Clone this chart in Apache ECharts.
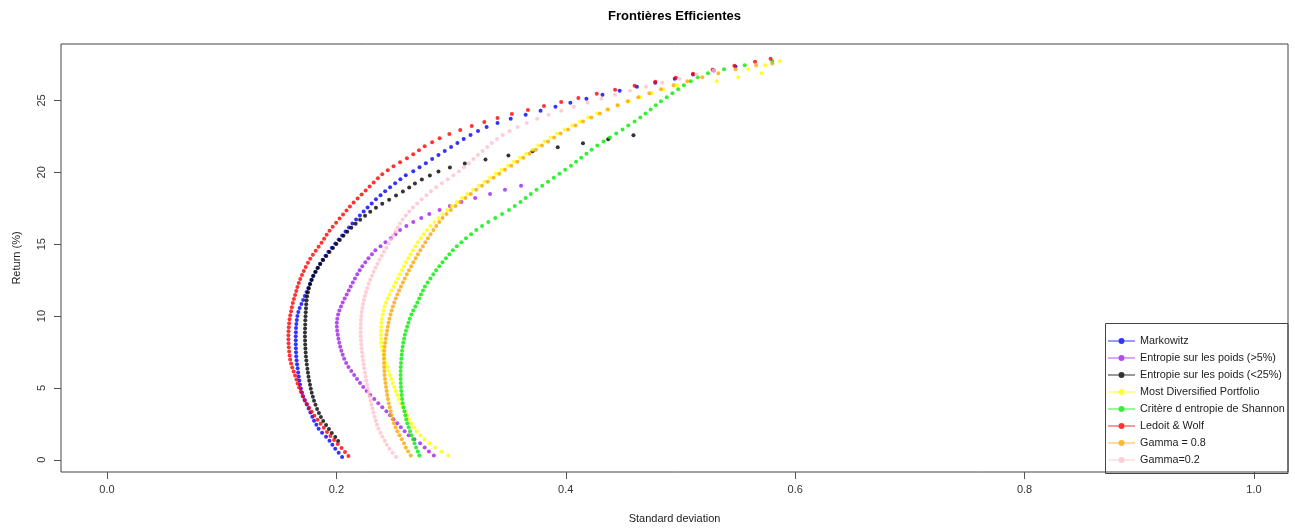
<!DOCTYPE html>
<html>
<head>
<meta charset="utf-8">
<title>Frontières Efficientes</title>
<script src="https://cdn.jsdelivr.net/npm/echarts@6.0.0/dist/echarts.min.js"></script>
<style>
    body { margin: 0; background: #fff; }
    #main { width: 1295px; height: 529px; }
</style>
</head>
<body>
<div id="main"></div>
<script>
// axis ticks
var xTicks = [0, 0.2, 0.4, 0.6, 0.8, 1.0];
var yTicks = [0, 5, 10, 15, 20, 25];

var seriesNames = [
    'Markowitz',
    'Entropie sur les poids (>5%)',
    'Entropie sur les poids (<25%)',
    'Most Diversified Portfolio',
    'Critère d entropie de Shannon',
    'Ledoit & Wolf',
    'Gamma = 0.8',
    'Gamma=0.2'
];
var seriesColors = ['#0000FF', '#A020F0', '#000000', '#FFFF00', '#00EE00', '#FF0000', '#FFA500', '#FFC0CB'];

// Markowitz
var markowitzRet = [
    0.20, 0.48, 0.76, 1.04, 1.32, 1.60, 1.88, 2.16, 2.44, 2.72,
    3.00, 3.28, 3.56, 3.84, 4.12, 4.40, 4.68, 4.96, 5.24, 5.52,
    5.80, 6.08, 6.36, 6.64, 6.92, 7.20, 7.48, 7.76, 8.04, 8.32,
    8.60, 8.88, 9.16, 9.44, 9.72, 10.00, 10.28, 10.56, 10.84, 11.12,
    11.40, 11.68, 11.96, 12.24, 12.52, 12.80, 13.08, 13.36, 13.64, 13.92,
    14.20, 14.48, 14.76, 15.04, 15.32, 15.60, 15.88, 16.16, 16.44, 16.72,
    17.00, 17.28, 17.56, 17.84, 18.12, 18.40, 18.68, 18.96, 19.24, 19.52,
    19.80, 20.08, 20.36, 20.64, 20.92, 21.20, 21.48, 21.76, 22.04, 22.32,
    22.60, 22.88, 23.16, 23.44, 23.72, 24.00, 24.28, 24.56, 24.84, 25.12,
    25.40, 25.68, 25.96, 26.24, 26.52, 26.80, 27.08, 27.36
];
var markowitzSd = [
    0.2050, 0.2020, 0.1990, 0.1965, 0.1940, 0.1910, 0.1875, 0.1845, 0.1825, 0.1805,
    0.1790, 0.1773, 0.1758, 0.1743, 0.1725, 0.1710, 0.1700, 0.1690, 0.1683, 0.1677,
    0.1672, 0.1667, 0.1662, 0.1657, 0.1653, 0.1650, 0.1648, 0.1647, 0.1646, 0.1646,
    0.1646, 0.1647, 0.1648, 0.1651, 0.1655, 0.1660, 0.1668, 0.1680, 0.1695, 0.1710,
    0.1725, 0.1740, 0.1755, 0.1770, 0.1785, 0.1800, 0.1820, 0.1840, 0.1860, 0.1880,
    0.1905, 0.1930, 0.1960, 0.1990, 0.2020, 0.2050, 0.2080, 0.2110, 0.2140, 0.2172,
    0.2205, 0.2238, 0.2272, 0.2308, 0.2345, 0.2385, 0.2425, 0.2468, 0.2512, 0.2558,
    0.2605, 0.2670, 0.2725, 0.2780, 0.2835, 0.2890, 0.2945, 0.3000, 0.3055, 0.3110,
    0.3170, 0.3235, 0.3310, 0.3405, 0.3520, 0.3650, 0.3780, 0.3910, 0.4040, 0.4180,
    0.4320, 0.4470, 0.4620, 0.4780, 0.4950, 0.5110, 0.5290, 0.5480
];

// Entropie sur les poids (>5%)
var entropy5Ret = [
    0.30, 0.58, 0.86, 1.14, 1.42, 1.70, 1.98, 2.26, 2.54, 2.82,
    3.10, 3.38, 3.66, 3.94, 4.22, 4.50, 4.78, 5.06, 5.34, 5.62,
    5.90, 6.18, 6.46, 6.74, 7.02, 7.30, 7.58, 7.86, 8.14, 8.42,
    8.70, 8.98, 9.26, 9.54, 9.82, 10.10, 10.38, 10.66, 10.94, 11.22,
    11.50, 11.78, 12.06, 12.34, 12.62, 12.90, 13.18, 13.46, 13.74, 14.02,
    14.30, 14.58, 14.86, 15.14, 15.42, 15.70, 15.98, 16.26, 16.54, 16.82,
    17.10, 17.38, 17.66, 17.94, 18.22, 18.50, 18.78, 19.06
];
var entropy5Sd = [
    0.2850, 0.2807, 0.2770, 0.2730, 0.2680, 0.2630, 0.2595, 0.2562, 0.2530, 0.2498,
    0.2468, 0.2436, 0.2400, 0.2365, 0.2330, 0.2296, 0.2264, 0.2234, 0.2206, 0.2180,
    0.2155, 0.2130, 0.2105, 0.2085, 0.2068, 0.2055, 0.2043, 0.2033, 0.2025, 0.2018,
    0.2012, 0.2007, 0.2004, 0.2004, 0.2008, 0.2015, 0.2026, 0.2040, 0.2055, 0.2072,
    0.2090, 0.2108, 0.2125, 0.2143, 0.2162, 0.2182, 0.2203, 0.2226, 0.2252, 0.2280,
    0.2310, 0.2340, 0.2385, 0.2428, 0.2475, 0.2515, 0.2555, 0.2610, 0.2670, 0.2740,
    0.2810, 0.2900, 0.2990, 0.3090, 0.3210, 0.3340, 0.3470, 0.3610
];

// Entropie sur les poids (<25%)
var entropy25Ret = [
    1.30, 1.58, 1.86, 2.14, 2.42, 2.70, 2.98, 3.26, 3.54, 3.82,
    4.10, 4.38, 4.66, 4.94, 5.22, 5.50, 5.78, 6.06, 6.34, 6.62,
    6.90, 7.18, 7.46, 7.74, 8.02, 8.30, 8.58, 8.86, 9.14, 9.42,
    9.70, 9.98, 10.26, 10.54, 10.82, 11.10, 11.38, 11.66, 11.94, 12.22,
    12.50, 12.78, 13.06, 13.34, 13.62, 13.90, 14.18, 14.46, 14.74, 15.02,
    15.30, 15.58, 15.86, 16.14, 16.42, 16.70, 16.98, 17.26, 17.54, 17.82,
    18.10, 18.38, 18.66, 18.94, 19.22, 19.50, 19.78, 20.06, 20.34, 20.62,
    20.90, 21.18, 21.46, 21.74, 22.02, 22.30, 22.58
];
var entropy25Sd = [
    0.2015, 0.1990, 0.1960, 0.1935, 0.1910, 0.1885, 0.1865, 0.1848, 0.1832, 0.1818,
    0.1805, 0.1795, 0.1785, 0.1777, 0.1770, 0.1763, 0.1757, 0.1752, 0.1747, 0.1742,
    0.1738, 0.1735, 0.1732, 0.1730, 0.1728, 0.1727, 0.1726, 0.1726, 0.1727, 0.1728,
    0.1729, 0.1731, 0.1733, 0.1735, 0.1737, 0.1740, 0.1745, 0.1752, 0.1760, 0.1770,
    0.1782, 0.1797, 0.1815, 0.1835, 0.1858, 0.1885, 0.1912, 0.1940, 0.1970, 0.2000,
    0.2030, 0.2062, 0.2095, 0.2130, 0.2168, 0.2207, 0.2250, 0.2295, 0.2345, 0.2400,
    0.2460, 0.2520, 0.2580, 0.2635, 0.2685, 0.2745, 0.2815, 0.2890, 0.2990, 0.3120,
    0.3300, 0.3500, 0.3710, 0.3930, 0.4150, 0.4370, 0.4590
];

// Most Diversified Portfolio
var mdpRet = [
    0.30, 0.58, 0.86, 1.14, 1.42, 1.70, 1.98, 2.26, 2.54, 2.82,
    3.10, 3.38, 3.66, 3.94, 4.22, 4.50, 4.78, 5.06, 5.34, 5.62,
    5.90, 6.18, 6.46, 6.74, 7.02, 7.30, 7.58, 7.86, 8.14, 8.42,
    8.70, 8.98, 9.26, 9.54, 9.82, 10.10, 10.38, 10.66, 10.94, 11.22,
    11.50, 11.78, 12.06, 12.34, 12.62, 12.90, 13.18, 13.46, 13.74, 14.02,
    14.30, 14.58, 14.86, 15.14, 15.42, 15.70, 15.98, 16.26, 16.54, 16.82,
    17.10, 17.38, 17.66, 17.94, 18.22, 18.50, 18.78, 19.06, 19.34, 19.62,
    19.90, 20.18, 20.46, 20.74, 21.02, 21.30, 21.58, 21.86, 22.14, 22.42,
    22.70, 22.98, 23.26, 23.54, 23.82, 24.10, 24.38, 24.66, 24.94, 25.22,
    25.50, 25.78, 26.06, 26.34, 26.62, 26.90, 27.18, 27.46, 27.74
];
var mdpSd = [
    0.2976, 0.2918, 0.2860, 0.2812, 0.2768, 0.2732, 0.2700, 0.2675, 0.2652, 0.2632,
    0.2614, 0.2596, 0.2578, 0.2560, 0.2545, 0.2532, 0.2518, 0.2504, 0.2491, 0.2478,
    0.2466, 0.2454, 0.2442, 0.2431, 0.2420, 0.2410, 0.2402, 0.2396, 0.2392, 0.2390,
    0.2389, 0.2389, 0.2390, 0.2393, 0.2398, 0.2404, 0.2411, 0.2420, 0.2432, 0.2446,
    0.2462, 0.2480, 0.2500, 0.2518, 0.2536, 0.2554, 0.2572, 0.2590, 0.2608, 0.2627,
    0.2646, 0.2666, 0.2688, 0.2710, 0.2735, 0.2762, 0.2790, 0.2820, 0.2855, 0.2890,
    0.2925, 0.2965, 0.3005, 0.3050, 0.3095, 0.3140, 0.3190, 0.3240, 0.3290, 0.3340,
    0.3390, 0.3440, 0.3495, 0.3548, 0.3600, 0.3655, 0.3710, 0.3760, 0.3815, 0.3868,
    0.3925, 0.3990, 0.4055, 0.4122, 0.4195, 0.4275, 0.4360, 0.4450, 0.4550, 0.4650,
    0.4750, 0.4850, 0.4970, 0.5316, 0.5504, 0.5708, 0.5591, 0.5740, 0.5868
];

// Critère d entropie de Shannon
var shannonRet = [
    0.30, 0.58, 0.86, 1.14, 1.42, 1.70, 1.98, 2.26, 2.54, 2.82,
    3.10, 3.38, 3.66, 3.94, 4.22, 4.50, 4.78, 5.06, 5.34, 5.62,
    5.90, 6.18, 6.46, 6.74, 7.02, 7.30, 7.58, 7.86, 8.14, 8.42,
    8.70, 8.98, 9.26, 9.54, 9.82, 10.10, 10.38, 10.66, 10.94, 11.22,
    11.50, 11.78, 12.06, 12.34, 12.62, 12.90, 13.18, 13.46, 13.74, 14.02,
    14.30, 14.58, 14.86, 15.14, 15.42, 15.70, 15.98, 16.26, 16.54, 16.82,
    17.10, 17.38, 17.66, 17.94, 18.22, 18.50, 18.78, 19.06, 19.34, 19.62,
    19.90, 20.18, 20.46, 20.74, 21.02, 21.30, 21.58, 21.86, 22.14, 22.42,
    22.70, 22.98, 23.26, 23.54, 23.82, 24.10, 24.38, 24.66, 24.94, 25.22,
    25.50, 25.78, 26.06, 26.34, 26.62, 26.90, 27.18, 27.46, 27.74
];
var shannonSd = [
    0.2723, 0.2710, 0.2695, 0.2681, 0.2668, 0.2655, 0.2642, 0.2630, 0.2618, 0.2609,
    0.2601, 0.2594, 0.2586, 0.2578, 0.2573, 0.2569, 0.2566, 0.2563, 0.2561, 0.2560,
    0.2560, 0.2560, 0.2561, 0.2563, 0.2566, 0.2569, 0.2573, 0.2578, 0.2583, 0.2590,
    0.2597, 0.2607, 0.2617, 0.2628, 0.2640, 0.2654, 0.2670, 0.2688, 0.2706, 0.2722,
    0.2738, 0.2755, 0.2772, 0.2795, 0.2820, 0.2845, 0.2870, 0.2897, 0.2925, 0.2955,
    0.2985, 0.3015, 0.3050, 0.3090, 0.3130, 0.3175, 0.3220, 0.3270, 0.3325, 0.3385,
    0.3445, 0.3505, 0.3555, 0.3605, 0.3650, 0.3695, 0.3745, 0.3795, 0.3845, 0.3895,
    0.3945, 0.3995, 0.4045, 0.4090, 0.4135, 0.4180, 0.4225, 0.4275, 0.4330, 0.4385,
    0.4440, 0.4495, 0.4545, 0.4600, 0.4650, 0.4695, 0.4740, 0.4785, 0.4830, 0.4880,
    0.4930, 0.4980, 0.5030, 0.5090, 0.5150, 0.5240, 0.5380, 0.5560, 0.5800
];

// Ledoit & Wolf
var ledoitWolfRet = [
    0.26, 0.54, 0.82, 1.10, 1.38, 1.66, 1.94, 2.22, 2.50, 2.78,
    3.06, 3.34, 3.62, 3.90, 4.18, 4.46, 4.74, 5.02, 5.30, 5.58,
    5.86, 6.14, 6.42, 6.70, 6.98, 7.26, 7.54, 7.82, 8.10, 8.38,
    8.66, 8.94, 9.22, 9.50, 9.78, 10.06, 10.34, 10.62, 10.90, 11.18,
    11.46, 11.74, 12.02, 12.30, 12.58, 12.86, 13.14, 13.42, 13.70, 13.98,
    14.26, 14.54, 14.82, 15.10, 15.38, 15.66, 15.94, 16.22, 16.50, 16.78,
    17.06, 17.34, 17.62, 17.90, 18.18, 18.46, 18.74, 19.02, 19.30, 19.58,
    19.86, 20.14, 20.42, 20.70, 20.98, 21.26, 21.54, 21.82, 22.10, 22.38,
    22.66, 22.94, 23.22, 23.50, 23.78, 24.06, 24.34, 24.62, 24.90, 25.18,
    25.46, 25.74, 26.02, 26.30, 26.58, 26.86, 27.14, 27.42, 27.70, 27.90
];
var ledoitWolfSd = [
    0.2105, 0.2075, 0.2045, 0.2012, 0.1980, 0.1948, 0.1918, 0.1890, 0.1862, 0.1835,
    0.1808, 0.1785, 0.1762, 0.1740, 0.1722, 0.1705, 0.1690, 0.1675, 0.1662, 0.1652,
    0.1640, 0.1628, 0.1615, 0.1605, 0.1597, 0.1592, 0.1588, 0.1585, 0.1583, 0.1582,
    0.1582, 0.1583, 0.1585, 0.1588, 0.1592, 0.1598, 0.1605, 0.1612, 0.1620, 0.1630,
    0.1640, 0.1650, 0.1660, 0.1672, 0.1685, 0.1700, 0.1716, 0.1733, 0.1752, 0.1772,
    0.1795, 0.1820, 0.1845, 0.1870, 0.1893, 0.1915, 0.1940, 0.1968, 0.1998, 0.2028,
    0.2058, 0.2088, 0.2118, 0.2150, 0.2185, 0.2220, 0.2255, 0.2290, 0.2325, 0.2362,
    0.2400, 0.2448, 0.2498, 0.2555, 0.2615, 0.2670, 0.2720, 0.2770, 0.2835, 0.2900,
    0.2985, 0.3080, 0.3180, 0.3290, 0.3405, 0.3530, 0.3670, 0.3810, 0.3960, 0.4110,
    0.4270, 0.4430, 0.4600, 0.4780, 0.4960, 0.5110, 0.5280, 0.5470, 0.5650, 0.5786
];

// Gamma = 0.8
var gamma08Ret = [
    0.30, 0.58, 0.86, 1.14, 1.42, 1.70, 1.98, 2.26, 2.54, 2.82,
    3.10, 3.38, 3.66, 3.94, 4.22, 4.50, 4.78, 5.06, 5.34, 5.62,
    5.90, 6.18, 6.46, 6.74, 7.02, 7.30, 7.58, 7.86, 8.14, 8.42,
    8.70, 8.98, 9.26, 9.54, 9.82, 10.10, 10.38, 10.66, 10.94, 11.22,
    11.50, 11.78, 12.06, 12.34, 12.62, 12.90, 13.18, 13.46, 13.74, 14.02,
    14.30, 14.58, 14.86, 15.14, 15.42, 15.70, 15.98, 16.26, 16.54, 16.82,
    17.10, 17.38, 17.66, 17.94, 18.22, 18.50, 18.78, 19.06, 19.34, 19.62,
    19.90, 20.18, 20.46, 20.74, 21.02, 21.30, 21.58, 21.86, 22.14, 22.42,
    22.70, 22.98, 23.26, 23.54, 23.82, 24.10, 24.38, 24.66, 24.94, 25.22,
    25.50, 25.78, 26.06, 26.34, 26.62, 26.90, 27.18, 27.46, 27.58
];
var gamma08Sd = [
    0.2648, 0.2625, 0.2605, 0.2590, 0.2570, 0.2550, 0.2532, 0.2516, 0.2502, 0.2490,
    0.2480, 0.2472, 0.2464, 0.2456, 0.2449, 0.2443, 0.2438, 0.2433, 0.2428, 0.2424,
    0.2420, 0.2418, 0.2416, 0.2415, 0.2415, 0.2416, 0.2418, 0.2421, 0.2425, 0.2430,
    0.2436, 0.2442, 0.2448, 0.2455, 0.2463, 0.2472, 0.2482, 0.2493, 0.2505, 0.2518,
    0.2532, 0.2547, 0.2563, 0.2580, 0.2597, 0.2615, 0.2633, 0.2652, 0.2671, 0.2691,
    0.2711, 0.2732, 0.2754, 0.2776, 0.2798, 0.2821, 0.2845, 0.2870, 0.2897, 0.2925,
    0.2960, 0.2998, 0.3038, 0.3080, 0.3125, 0.3172, 0.3220, 0.3270, 0.3320, 0.3370,
    0.3420, 0.3470, 0.3525, 0.3578, 0.3630, 0.3685, 0.3740, 0.3792, 0.3845, 0.3898,
    0.3955, 0.4020, 0.4085, 0.4150, 0.4222, 0.4298, 0.4368, 0.4452, 0.4540, 0.4632,
    0.4728, 0.4830, 0.4940, 0.5060, 0.5190, 0.5330, 0.5480, 0.5660, 0.5800
];

// Gamma=0.2
var gamma02Ret = [
    0.20, 0.48, 0.76, 1.04, 1.32, 1.60, 1.88, 2.16, 2.44, 2.72,
    3.00, 3.28, 3.56, 3.84, 4.12, 4.40, 4.68, 4.96, 5.24, 5.52,
    5.80, 6.08, 6.36, 6.64, 6.92, 7.20, 7.48, 7.76, 8.04, 8.32,
    8.60, 8.88, 9.16, 9.44, 9.72, 10.00, 10.28, 10.56, 10.84, 11.12,
    11.40, 11.68, 11.96, 12.24, 12.52, 12.80, 13.08, 13.36, 13.64, 13.92,
    14.20, 14.48, 14.76, 15.04, 15.32, 15.60, 15.88, 16.16, 16.44, 16.72,
    17.00, 17.28, 17.56, 17.84, 18.12, 18.40, 18.68, 18.96, 19.24, 19.52,
    19.80, 20.08, 20.36, 20.64, 20.92, 21.20, 21.48, 21.76, 22.04, 22.32,
    22.60, 22.88, 23.16, 23.44, 23.72, 24.00, 24.28, 24.56, 24.84, 25.12,
    25.40, 25.68, 25.96, 26.24, 26.52, 26.80, 27.08
];
var gamma02Sd = [
    0.2520, 0.2490, 0.2462, 0.2440, 0.2421, 0.2402, 0.2385, 0.2367, 0.2355, 0.2343,
    0.2333, 0.2324, 0.2315, 0.2306, 0.2297, 0.2289, 0.2282, 0.2275, 0.2268, 0.2261,
    0.2255, 0.2249, 0.2243, 0.2238, 0.2233, 0.2228, 0.2224, 0.2220, 0.2217, 0.2214,
    0.2212, 0.2211, 0.2211, 0.2212, 0.2214, 0.2217, 0.2221, 0.2226, 0.2232, 0.2240,
    0.2249, 0.2259, 0.2270, 0.2282, 0.2295, 0.2310, 0.2325, 0.2341, 0.2358, 0.2376,
    0.2395, 0.2415, 0.2435, 0.2455, 0.2475, 0.2495, 0.2515, 0.2535, 0.2555, 0.2578,
    0.2605, 0.2635, 0.2668, 0.2705, 0.2744, 0.2785, 0.2825, 0.2870, 0.2920, 0.2970,
    0.3020, 0.3068, 0.3112, 0.3155, 0.3195, 0.3235, 0.3275, 0.3315, 0.3355, 0.3400,
    0.3450, 0.3510, 0.3580, 0.3660, 0.3750, 0.3850, 0.3960, 0.4070, 0.4190, 0.4310,
    0.4430, 0.4560, 0.4700, 0.4840, 0.4990, 0.5140, 0.5290
];

var frontiers = [
    { sd: markowitzSd, ret: markowitzRet },
    { sd: entropy5Sd, ret: entropy5Ret },
    { sd: entropy25Sd, ret: entropy25Ret },
    { sd: mdpSd, ret: mdpRet },
    { sd: shannonSd, ret: shannonRet },
    { sd: ledoitWolfSd, ret: ledoitWolfRet },
    { sd: gamma08Sd, ret: gamma08Ret },
    { sd: gamma02Sd, ret: gamma02Ret }
];

var fontFamily = '"Liberation Sans", Arial, sans-serif';
// line with a dot in the middle, like R's legend(lty=1, pch=20)
var legendIcon = 'path://M0,2.5L27,2.5L27,3.5L0,3.5Z M10.5,3A3,3 0 1 1 16.5,3A3,3 0 1 1 10.5,3Z';

var series = [];
frontiers.forEach(function (f, i) {
    series.push({
        name: seriesNames[i],
        type: 'scatter',
        symbol: 'circle',
        symbolSize: 4,
        itemStyle: { color: seriesColors[i] },
        emphasis: { disabled: true },
        data: f.ret.map(function (r, j) { return [f.sd[j], r]; })
    });
});

var myChart = echarts.init(document.getElementById('main'));
var option = {
    animation: false,
    backgroundColor: '#fff',
    textStyle: { fontFamily: fontFamily },
    title: {
        text: 'Frontières Efficientes',
        left: 674.5,
        top: 10,
        padding: 0,
        textAlign: 'center',
        textStyle: { fontSize: 13, fontWeight: 'bold', color: '#000', fontFamily: fontFamily }
    },
    grid: {
        left: 61,
        right: 7,
        top: 44,
        bottom: 55,
        show: true,
        borderColor: '#444',
        borderWidth: 1
    },
    legend: {
        orient: 'vertical',
        left: 1108,
        top: 335,
        padding: 0,
        itemWidth: 27,
        itemHeight: 6,
        itemGap: 5,
        icon: legendIcon,
        selectedMode: false,
        data: seriesNames,
        textStyle: { fontSize: 10.8, lineHeight: 12, color: '#222', fontFamily: fontFamily }
    },
    graphic: [{
        type: 'rect',
        z: 100,
        shape: { x: 1105.5, y: 323.5, width: 182.5, height: 150 },
        style: { fill: 'transparent', stroke: '#444', lineWidth: 1 },
        silent: true
    }],
    xAxis: {
        type: 'value',
        min: -0.0401,
        max: 1.0297,
        name: 'Standard deviation',
        nameLocation: 'middle',
        nameGap: 41,
        nameTextStyle: { fontSize: 11, color: '#222' },
        axisLine: { show: false, onZero: false },
        axisTick: { show: true, length: 7, customValues: xTicks, lineStyle: { color: '#555' } },
        axisLabel: {
            customValues: xTicks,
            margin: 12,
            fontSize: 11,
            color: '#333',
            formatter: function (v) { return v.toFixed(1); }
        },
        splitLine: { show: false }
    },
    yAxis: {
        type: 'value',
        min: -0.852,
        max: 28.93,
        name: 'Return (%)',
        nameLocation: 'middle',
        nameGap: 39,
        nameTextStyle: { fontSize: 11, color: '#222' },
        axisLine: { show: false, onZero: false },
        axisTick: { show: true, length: 7, customValues: yTicks, lineStyle: { color: '#555' } },
        axisLabel: {
            customValues: yTicks,
            rotate: 90,
            margin: 14,
            fontSize: 11,
            color: '#333'
        },
        splitLine: { show: false }
    },
    series: series
};
myChart.setOption(option);

window.addEventListener('resize', function () {
    myChart.resize();
});
</script>
</body>
</html>
